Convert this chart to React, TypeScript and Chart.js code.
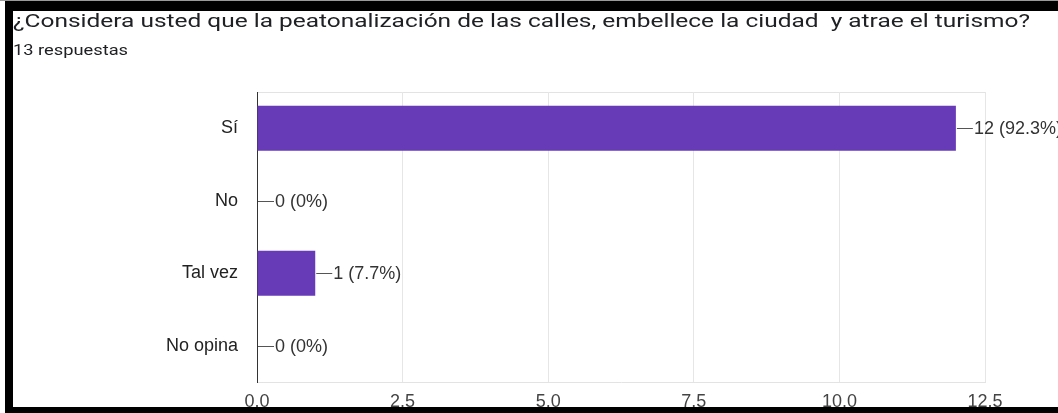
import React, { useEffect, useRef } from "react";
import { Chart, registerables } from "chart.js";

Chart.register(...registerables);

const TITLE = "¿Considera usted que la peatonalización de las calles, embellece la ciudad  y atrae el turismo?";
const SUBTITLE = "13 respuestas";
const categories = ["Sí", "No", "Tal vez", "No opina"];
const counts = [12, 0, 1, 0];
const percents = ["92.3%", "0%", "7.7%", "0%"];
const xTicks = [0, 2.5, 5, 7.5, 10, 12.5];

const BAR = "#673ab7";
const FONT = "'Liberation Sans', Arial, sans-serif";

export default function App() {
  const canvasRef = useRef<HTMLCanvasElement | null>(null);
  const titleRef = useRef<HTMLSpanElement | null>(null);
  const subRef = useRef<HTMLSpanElement | null>(null);

  useEffect(() => {
    const fit = () => {
      const pairs: [HTMLSpanElement | null, number][] = [
        [titleRef.current, 1017],
        [subRef.current, 115],
      ];
      for (const [el, w] of pairs) {
        if (!el) continue;
        el.style.transform = "none";
        const cur = el.getBoundingClientRect().width;
        if (cur > 0) el.style.transform = `scaleX(${w / cur})`;
      }
    };
    fit();
    (document as any).fonts?.ready?.then(fit);

    const labelPlugin = {
      id: "valueLabels",
      beforeDraw(chart: any) {
        const { ctx, chartArea } = chart;
        ctx.save();
        ctx.strokeStyle = "#e3e3e3";
        ctx.lineWidth = 1;
        ctx.beginPath();
        ctx.moveTo(chartArea.left, chartArea.top + 0.5);
        ctx.lineTo(chartArea.right, chartArea.top + 0.5);
        ctx.stroke();
        ctx.restore();
      },
      afterDatasetsDraw(chart: any) {
        const { ctx } = chart;
        const meta = chart.getDatasetMeta(0);
        ctx.save();
        ctx.font = `18px ${FONT}`;
        ctx.textBaseline = "middle";
        ctx.textAlign = "left";
        meta.data.forEach((bar: any, i: number) => {
          const x = bar.x;
          const y = Math.round(bar.y) + 0.5;
          ctx.strokeStyle = "#555";
          ctx.lineWidth = 1;
          ctx.beginPath();
          ctx.moveTo(x + 1, y);
          ctx.lineTo(x + 17, y);
          ctx.stroke();
          ctx.fillStyle = "#333";
          ctx.fillText(`${counts[i]} (${percents[i]})`, x + 18, y + 1);
        });
        ctx.restore();
      },
    };

    const chart = new Chart(canvasRef.current as HTMLCanvasElement, {
      type: "bar",
      data: {
        labels: categories,
        datasets: [
          {
            data: counts,
            backgroundColor: BAR,
            borderWidth: 0,
            categoryPercentage: 0.62,
            barPercentage: 1,
          },
        ],
      },
      options: {
        indexAxis: "y",
        animation: false,
        responsive: false,
        maintainAspectRatio: false,
        layout: { padding: { top: 92, right: 73, left: 0, bottom: 0 } },
        plugins: {
          legend: { display: false },
          tooltip: { enabled: false },
          title: { display: false },
        },
        scales: {
          x: {
            type: "linear",
            min: 0,
            max: 12.5,
            afterBuildTicks: (scale: any) => {
              scale.ticks = xTicks.map((v) => ({ value: v }));
            },
            afterFit: (scale: any) => {
              scale.height = 31;
            },
            grid: { color: "#e6e6e6", drawTicks: false },
            border: { display: true, color: "#e3e3e3" },
            ticks: {
              padding: 9,
              color: "#444",
              font: { family: FONT, size: 18 },
              callback: (v: any) => Number(v).toFixed(1),
            },
          },
          y: {
            afterFit: (scale: any) => {
              scale.width = 257;
            },
            grid: { display: false, drawTicks: false },
            border: { display: true, color: "#333", width: 1 },
            ticks: {
              padding: 19,
              color: "#222",
              font: { family: FONT, size: 18 },
            },
          },
        },
      },
      plugins: [labelPlugin],
    } as any);

    return () => chart.destroy();
  }, []);

  return (
    <div
      style={{
        position: "fixed",
        left: 0,
        top: 0,
        width: 1058,
        height: 413,
        overflow: "hidden",
        background: "#fff",
      }}
    >
      <canvas
        ref={canvasRef}
        width={1058}
        height={413}
        style={{ position: "absolute", left: 0, top: 0, width: 1058, height: 413 }}
      />
      <div
        style={{
          position: "absolute",
          left: 13,
          top: 11,
          fontFamily: "Roboto, sans-serif",
          fontSize: 19,
          lineHeight: "19px",
          color: "#202124",
          whiteSpace: "pre",
        }}
      >
        <span ref={titleRef} style={{ display: "inline-block", transformOrigin: "left top" }}>
          {TITLE}
        </span>
      </div>
      <div
        style={{
          position: "absolute",
          left: 13,
          top: 43,
          fontFamily: "Roboto, sans-serif",
          fontSize: 14,
          lineHeight: "14px",
          color: "#202124",
          whiteSpace: "pre",
        }}
      >
        <span ref={subRef} style={{ display: "inline-block", transformOrigin: "left top" }}>
          {SUBTITLE}
        </span>
      </div>
      <div style={{ position: "absolute", left: 0, top: 0, width: 1058, height: 1, background: "#9a9a9a" }} />
      <div style={{ position: "absolute", left: 5, top: 1, width: 1053, height: 10, background: "#000" }} />
      <div style={{ position: "absolute", left: 5, top: 1, width: 8, height: 412, background: "#000" }} />
      <div style={{ position: "absolute", left: 5, top: 407, width: 1053, height: 6, background: "#000" }} />
    </div>
  );
}
